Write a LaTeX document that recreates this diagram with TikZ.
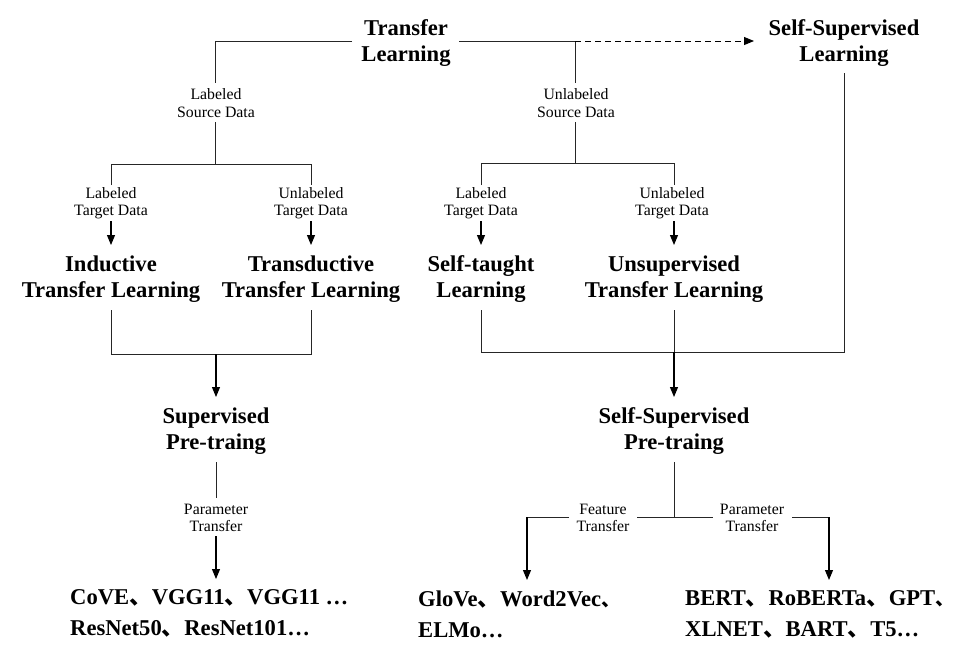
\documentclass[tikz,border=0pt]{standalone}
\usepackage{fontspec}
\setmainfont{Liberation Serif}
\newfontfamily\cjk{Noto Sans CJK SC}
\usetikzlibrary{arrows.meta}
\newcommand{\dn}{{\cjk 、}}
\newcommand{\dnend}{\makebox[0.4em][l]{\cjk\fontsize{19}{19}\selectfont 、}}
\begin{document}
\begin{tikzpicture}[x=1pt,y=-1pt,
  big/.style={font=\bfseries\fontsize{22.6}{26}\selectfont,align=center,inner sep=0pt},
  lab/.style={font=\fontsize{15.8}{17.5}\selectfont,align=center,inner sep=0pt},
  res/.style={font=\bfseries\fontsize{22.6}{31}\selectfont,align=left,inner sep=0pt,anchor=west},
  ln/.style={line width=1pt,black!85},
  arr/.style={line width=1.1pt,-{Triangle[length=10pt,width=8pt]}},
  dashedarr/.style={line width=1pt,dash pattern=on 6pt off 4pt,-{Triangle[length=10pt,width=8pt]}}
]
\useasboundingbox (0,0) rectangle (956,654);
\fill[white] (0,0) rectangle (956,654);

% top level
\node[big] (tl) at (406,43) {Transfer\\Learning};
\node[big] (ssl) at (844,43) {Self-Supervised\\Learning};

% coordinates
\coordinate (tlw) at (352,41);
\coordinate (tle) at (459,41);
\coordinate (lc) at (215,41);
\coordinate (rc) at (575,41);
\coordinate (sslw) at (754,41);
\coordinate (sslb) at (844,73);

% source labels
\node[lab] (lsd) at (216,103) {Labeled\\Source Data};
\node[lab] (usd) at (576,103) {Unlabeled\\Source Data};

\draw[ln] (tlw) -- (lc) -- (215,83);
\draw[ln] (tle) -- (rc) -- (575,83);
\draw[dashedarr] (rc) -- (sslw);

% branch points
\coordinate (lb) at (215,164);
\coordinate (rb) at (575,163);
\draw[ln] (215,122) -- (lb);
\draw[ln] (575,122) -- (rb);
\draw[ln] (111,185) -- (111,164) -- (311,164) -- (311,185);
\draw[ln] (481,185) -- (481,163) -- (674,163) -- (674,185);

% target labels
\node[lab] (ltd1) at (111,203) {Labeled\\Target Data};
\node[lab] (utd1) at (311,203) {Unlabeled\\Target Data};
\node[lab] (ltd2) at (481,203) {Labeled\\Target Data};
\node[lab] (utd2) at (672,203) {Unlabeled\\Target Data};

% methods
\node[big] (itl) at (111,279) {Inductive\\Transfer Learning};
\node[big] (ttl) at (311,279) {Transductive\\Transfer Learning};
\node[big] (stl) at (481,279) {Self-taught\\Learning};
\node[big] (utl) at (674,279) {Unsupervised\\Transfer Learning};

\draw[arr] (111,221) -- (111,245);
\draw[arr] (311,221) -- (311,245);
\draw[arr] (481,221) -- (481,245);
\draw[arr] (674,221) -- (674,245);

% merge left
\draw[ln] (111,310) -- (111,354) -- (311,354) -- (311,310);
\coordinate (lm) at (216,354);
% merge right
\draw[ln] (481,310) -- (481,352) -- (844,352) -- (sslb);
\draw[ln] (674,310) -- (674,352);
\coordinate (rm) at (674,352);

% pre-training
\node[big] (spt) at (216,431) {Supervised\\Pre-traing};
\node[big] (sspt) at (674,431) {Self-Supervised\\Pre-traing};
\draw[arr] (lm) -- (216,397);
\draw[arr] (rm) -- (674,397);

% left parameter transfer
\node[lab] (pt1) at (216,518) {Parameter\\Transfer};
\draw[ln] (216,462) -- (216,498);
\draw[arr] (216,536) -- (216,579);

% right split
\node[lab] (ft) at (603,518) {Feature\\Transfer};
\node[lab] (pt2) at (752,518) {Parameter\\Transfer};
\coordinate (rs) at (674,517);
\coordinate (fl) at (527,517);
\coordinate (pr) at (829,517);
\draw[ln] (674,462) -- (rs);
\draw[ln] (rs) -- (637,517);
\draw[ln] (569,517) -- (fl);
\draw[arr] (fl) -- (527,580);
\draw[ln] (rs) -- (713,517);
\draw[ln] (792,517) -- (pr);
\draw[arr] (pr) -- (829,580);

% results
\node[res] (r1) at (70,613) {CoVE\dn VGG11\dn VGG11 \ldots\\ResNet50\dn ResNet101\ldots};
\node[res] (r2) at (418,614) {GloVe\dn Word2Vec\dnend\\ELMo\ldots};
\node[res] (r3) at (685,614) {BERT\dn RoBERTa\dn GPT\dnend\\XLNET\dn BART\dn T5\ldots};
\end{tikzpicture}
\end{document}
